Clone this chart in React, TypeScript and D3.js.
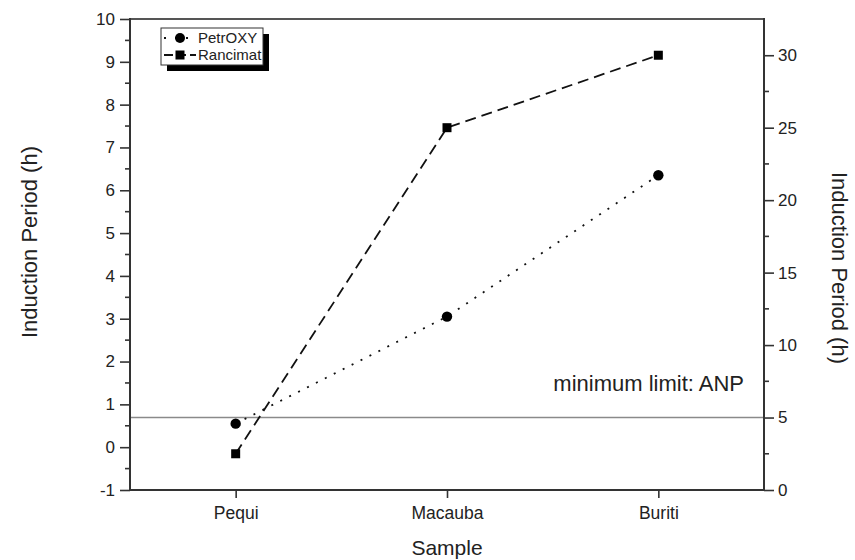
import { useEffect, useRef } from "react";
import * as d3 from "d3";

// data
const samples = ["Pequi", "Macauba", "Buriti"];
const petroxy = [0.55, 3.05, 6.35]; // left axis (h)
const rancimat = [2.5, 25, 30]; // right axis (h)
const leftTicks = [-1, 0, 1, 2, 3, 4, 5, 6, 7, 8, 9, 10];
const rightTicks = [0, 5, 10, 15, 20, 25, 30];
const anpLimit = 5; // on right axis

const W = 855;
const H = 560;
const margin = { top: 19, right: 91, bottom: 70, left: 130 };
const FONT = "'Liberation Sans', Arial, sans-serif";
const INK = "#222";
const AXIS = "#333";

const App = () => {
  const ref = useRef<SVGSVGElement>(null);

  useEffect(() => {
    const svg = d3.select(ref.current);
    svg.selectAll("*").remove();

    const x0 = margin.left;
    const x1 = W - margin.right;
    const y0 = margin.top;
    const y1 = H - margin.bottom;

    const x = d3.scalePoint<string>().domain(samples).range([x0, x1]).padding(0.5);
    const yL = d3.scaleLinear().domain([-1, 10]).range([y1, y0]);
    const yR = d3.scaleLinear().domain([0, 32.5]).range([y1, y0]);
    const fmt = (d: d3.NumberValue) => String(d); // plain hyphen for -1

    // limit line
    svg.append("line")
      .attr("x1", x0).attr("x2", x1)
      .attr("y1", yR(anpLimit)).attr("y2", yR(anpLimit))
      .attr("stroke", "#8a8a8a").attr("stroke-width", 1.5);

    svg.append("text")
      .attr("x", 744).attr("y", 391)
      .attr("text-anchor", "end")
      .attr("font-family", FONT).attr("font-size", 22).attr("fill", INK)
      .text("minimum limit: ANP");

    // frame: top line
    svg.append("line")
      .attr("x1", x0).attr("x2", x1).attr("y1", y0).attr("y2", y0)
      .attr("stroke", "#555").attr("stroke-width", 2);

    // left axis
    const leftMinor = d3.range(-0.5, 10, 1);
    const left = svg.append("g").attr("transform", `translate(${x0},0)`);
    left.call(
      d3.axisLeft(yL).tickValues(leftTicks).tickFormat(fmt).tickSize(10).tickPadding(5)
    );
    left.selectAll(".minor").data(leftMinor).join("line")
      .attr("class", "minor")
      .attr("x1", -5).attr("x2", 0)
      .attr("y1", d => yL(d)).attr("y2", d => yL(d));

    // right axis
    const rightMinor = d3.range(2.5, 30, 5);
    const right = svg.append("g").attr("transform", `translate(${x1},0)`);
    right.call(
      d3.axisRight(yR).tickValues(rightTicks).tickFormat(fmt).tickSize(10).tickPadding(4)
    );
    right.selectAll(".minor").data(rightMinor).join("line")
      .attr("class", "minor")
      .attr("x1", 0).attr("x2", 5)
      .attr("y1", d => yR(d)).attr("y2", d => yR(d));

    // bottom axis
    const bottom = svg.append("g").attr("transform", `translate(0,${y1})`);
    bottom.call(d3.axisBottom(x).tickSize(8).tickPadding(9));

    [left, right, bottom].forEach(g => {
      g.select(".domain")
        .attr("stroke", AXIS).attr("stroke-width", 2)
        .attr("d", g === bottom ? `M${x0 - 1},0H${x1 + 1}` :
          `M0,${y0 - 1}V${y1 + 1}`);
      g.selectAll(".tick line, .minor").attr("stroke", AXIS).attr("stroke-width", 1.6);
      g.selectAll(".tick text")
        .attr("font-family", FONT).attr("font-size", g === bottom ? 17.5 : 17).attr("fill", INK);
    });

    // axis titles
    svg.append("text")
      .attr("transform", `translate(37,242) rotate(-90)`)
      .attr("text-anchor", "middle")
      .attr("font-family", FONT).attr("font-size", 22).attr("fill", INK)
      .text("Induction Period (h)");
    svg.append("text")
      .attr("transform", `translate(832,268) rotate(90)`)
      .attr("text-anchor", "middle")
      .attr("font-family", FONT).attr("font-size", 22).attr("fill", INK)
      .text("Induction Period (h)");
    svg.append("text")
      .attr("x", (x0 + x1) / 2).attr("y", 555)
      .attr("text-anchor", "middle")
      .attr("font-family", FONT).attr("font-size", 21).attr("fill", INK)
      .text("Sample");

    // series
    const lineL = d3.line<number>().x((_, i) => x(samples[i])!).y(d => yL(d));
    const lineR = d3.line<number>().x((_, i) => x(samples[i])!).y(d => yR(d));

    svg.append("path").datum(rancimat)
      .attr("d", lineR).attr("fill", "none")
      .attr("stroke", "#111").attr("stroke-width", 1.8).attr("stroke-dasharray", "11,6");
    svg.append("path").datum(petroxy)
      .attr("d", lineL).attr("fill", "none")
      .attr("stroke", "#111").attr("stroke-width", 1.8).attr("stroke-dasharray", "2,8");

    svg.selectAll(".pt").data(petroxy).join("circle")
      .attr("class", "pt")
      .attr("cx", (_, i) => x(samples[i])!).attr("cy", d => yL(d))
      .attr("r", 5.2).attr("fill", "#000");
    svg.selectAll(".sq").data(rancimat).join("rect")
      .attr("class", "sq")
      .attr("x", (_, i) => x(samples[i])! - 4.5).attr("y", d => yR(d) - 4.5)
      .attr("width", 9).attr("height", 9).attr("fill", "#000");

    // legend
    const lg = svg.append("g");
    lg.append("rect").attr("x", 167).attr("y", 34).attr("width", 102).attr("height", 37).attr("fill", "#000");
    lg.append("rect").attr("x", 161).attr("y", 28).attr("width", 102).attr("height", 37)
      .attr("fill", "#fff").attr("stroke", "#333").attr("stroke-width", 1);
    const rows = [
      { name: "PetrOXY", y: 38, dash: "2,9", mark: "circle" },
      { name: "Rancimat", y: 55, dash: "9,4", mark: "square" },
    ];
    rows.forEach(r => {
      lg.append("line").attr("x1", 164).attr("x2", 196).attr("y1", r.y).attr("y2", r.y)
        .attr("stroke", "#111").attr("stroke-width", 1.8)
        .attr("stroke-dasharray", r.dash);
      if (r.mark === "circle") {
        lg.append("circle").attr("cx", 180).attr("cy", r.y).attr("r", 5).attr("fill", "#000");
      } else {
        lg.append("rect").attr("x", 175.5).attr("y", r.y - 4.5).attr("width", 9).attr("height", 9).attr("fill", "#000");
      }
      lg.append("text").attr("x", 198).attr("y", r.y + 5)
        .attr("font-family", FONT).attr("font-size", 15).attr("fill", INK)
        .text(r.name);
    });
  }, []);

  return (
    <svg ref={ref} width={W} height={H}
      style={{ position: "absolute", left: 0, top: 0, background: "#fff" }} />
  );
};

export default App;
